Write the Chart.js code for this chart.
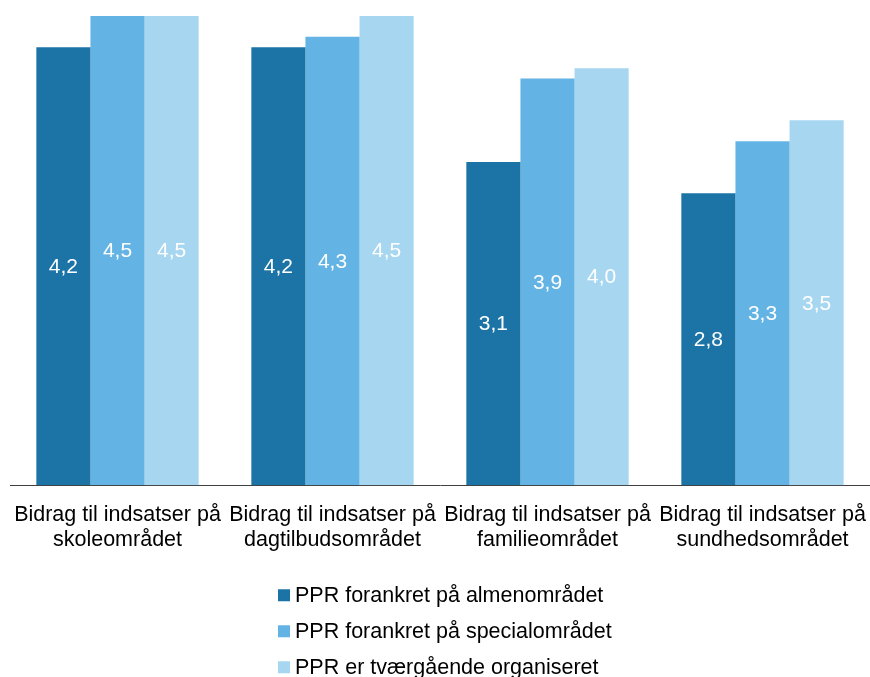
<!DOCTYPE html>
<html>
<head>
<meta charset="utf-8">
<script src="https://cdn.jsdelivr.net/npm/chart.js@4.4.1/dist/chart.umd.min.js"></script>
<style>
  html, body { margin: 0; padding: 0; background: #fff; }
  #wrap { width: 870px; height: 677px; }
</style>
</head>
<body>
<div id="wrap"><canvas id="chart"></canvas></div>
<script>
var categories = [
  ["Bidrag til indsatser på", "skoleområdet"],
  ["Bidrag til indsatser på", "dagtilbudsområdet"],
  ["Bidrag til indsatser på", "familieområdet"],
  ["Bidrag til indsatser på", "sundhedsområdet"]
];
var seriesNames = [
  "PPR forankret på almenområdet",
  "PPR forankret på specialområdet",
  "PPR er tværgående organiseret"
];
var almen = [4.2, 4.2, 3.1, 2.8];
var special = [4.5, 4.3, 3.9, 3.3];
var tvaer = [4.5, 4.5, 4.0, 3.5];
var colors = ["#1C74A6", "#63B4E4", "#A7D6F0"];

var fontFamily = "'Liberation Sans', Arial, sans-serif";

// tal i midten af søjlerne, med komma
var barLabels = {
  id: "barLabels",
  afterDatasetsDraw: function (chart) {
    var ctx = chart.ctx;
    ctx.save();
    ctx.font = "21px " + fontFamily;
    ctx.fillStyle = "#ffffff";
    ctx.textAlign = "center";
    ctx.textBaseline = "middle";
    chart.data.datasets.forEach(function (ds, i) {
      chart.getDatasetMeta(i).data.forEach(function (bar, j) {
        var txt = ds.data[j].toFixed(1).replace(".", ",");
        ctx.fillText(txt, bar.x, (bar.y + bar.base) / 2 + 1);
      });
    });
    ctx.restore();
  }
};

// lodret legend under grafen
var stackedLegend = {
  id: "stackedLegend",
  afterDraw: function (chart) {
    var ctx = chart.ctx;
    ctx.save();
    ctx.font = "21.5px " + fontFamily;
    ctx.textBaseline = "middle";
    ctx.textAlign = "left";
    var left = 278;
    var top = chart.chartArea.bottom + 110;
    chart.data.datasets.forEach(function (ds, i) {
      var cy = top + i * 36;
      ctx.fillStyle = ds.backgroundColor;
      ctx.fillRect(left, cy - 6, 12, 12);
      ctx.fillStyle = "#000000";
      ctx.fillText(ds.label, left + 17, cy + 1);
    });
    ctx.restore();
  }
};

new Chart(document.getElementById("chart").getContext("2d"), {
  type: "bar",
  data: {
    labels: categories,
    datasets: [
      { label: seriesNames[0], data: almen, backgroundColor: colors[0] },
      { label: seriesNames[1], data: special, backgroundColor: colors[1] },
      { label: seriesNames[2], data: tvaer, backgroundColor: colors[2] }
    ]
  },
  options: {
    responsive: true,
    maintainAspectRatio: false,
    animation: false,
    layout: { padding: { left: 10, right: 0, top: 16, bottom: 124 } },
    datasets: { bar: { categoryPercentage: 0.755, barPercentage: 1.0 } },
    plugins: {
      legend: { display: false },
      tooltip: { enabled: false }
    },
    scales: {
      x: {
        grid: { display: false, drawTicks: true, tickLength: 17 },
        border: { display: true, color: "#404040", width: 1 },
        ticks: {
          color: "#000000",
          padding: 0,
          maxRotation: 0,
          autoSkip: false,
          font: { family: fontFamily, size: 21.5, lineHeight: 1.18 }
        }
      },
      y: {
        display: false,
        min: 0,
        max: 4.5
      }
    }
  },
  plugins: [barLabels, stackedLegend]
});
</script>
</body>
</html>
